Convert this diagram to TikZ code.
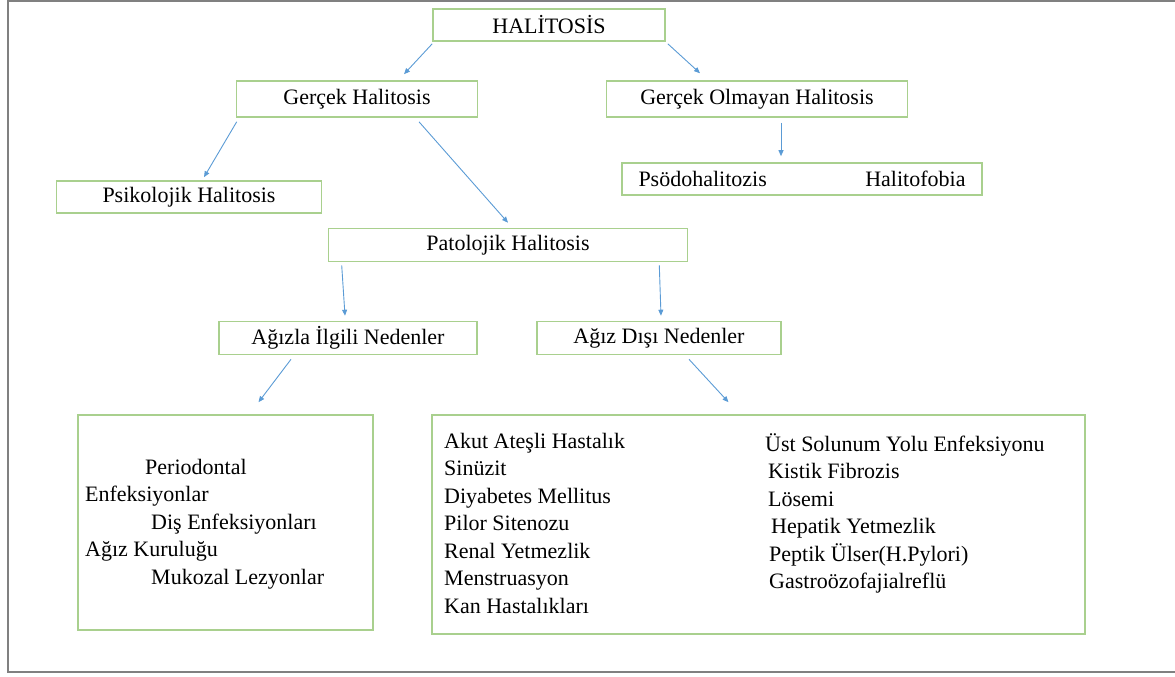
\documentclass[tikz,border=0pt]{standalone}
\usepackage{fontspec}
\setmainfont{LiberationSerif}[Extension=.ttf, UprightFont=*-Regular, BoldFont=*-Bold, ItalicFont=*-Italic]
\usetikzlibrary{positioning,arrows.meta}

\definecolor{boxgreen}{RGB}{169,208,142}
\definecolor{arrowblue}{RGB}{91,155,213}
\definecolor{framegray}{RGB}{128,128,128}

\begin{document}
\begin{tikzpicture}[x=1pt, y=-1pt,
  box/.style={rectangle, draw=boxgreen, line width=1.6pt, inner sep=0pt, align=center, font=\fontsize{22}{27.5}\selectfont},
  listtext/.style={anchor=north west, inner sep=0pt, align=left, font=\fontsize{22}{27.5}\selectfont},
  arrow/.style={-{Triangle[length=6pt, width=5pt]}, draw=arrowblue, line width=0.9pt}
]
  \useasboundingbox (0,0) rectangle (1175,677);
  \draw[framegray, line width=2pt] (1185,1) -- (8,1) -- (8,672) -- (1185,672);

  \node[box, minimum width=232, minimum height=32] (halitosis) at (549,25) {HALİTOSİS};
  \node[box, minimum width=241, minimum height=36] (gercek) at (357,99) {Gerçek Halitosis};
  \node[box, minimum width=301, minimum height=36] (olmayan) at (757,99) {Gerçek Olmayan Halitosis};
  \node[box, minimum width=265, minimum height=32] (psikolojik) at (189,197) {Psikolojik Halitosis};
  \node[box, minimum width=360, minimum height=32] (psodo) at (802,179) {\makebox[327pt]{Psödohalitozis\hfill Halitofobia}};
  \node[box, minimum width=359, minimum height=33] (patolojik) at (508,245) {Patolojik Halitosis};
  \node[box, minimum width=258, minimum height=33] (agizla) at (348,338) {Ağızla İlgili Nedenler};
  \node[box, minimum width=244, minimum height=33] (disi) at (659,338) {Ağız Dışı Nedenler};
  \node[box, minimum width=295, minimum height=215] (oral) at (225.5,522.5) {};
  \node[box, minimum width=653, minimum height=219] (extraoral) at (758.5,524.5) {};

  % list texts
  \node[listtext] (oraltext) at (85,459) {\hspace*{60pt}Periodontal\\Enfeksiyonlar\\\hspace*{66pt}Diş Enfeksiyonları\\Ağız Kuruluğu\\\hspace*{66pt}Mukozal Lezyonlar};
  \node[listtext] (extraleft) at (444,433) {Akut Ateşli Hastalık\\Sinüzit\\Diyabetes Mellitus\\Pilor Sitenozu\\Renal Yetmezlik\\Menstruasyon\\Kan Hastalıkları};
  \node[listtext] (extraright) at (765,433) {Üst Solunum Yolu Enfeksiyonu\\\hspace*{3pt}Kistik Fibrozis\\\hspace*{3pt}Lösemi\\\hspace*{6pt}Hepatik Yetmezlik\\\hspace*{4pt}Peptik Ülser(H.Pylori)\\\hspace*{4pt}Gastroözofajialreflü};

  \draw[arrow] ([yshift=-2pt]halitosis.south west) -- ([xshift=47pt, yshift=6pt]gercek.north);
  \draw[arrow] ([xshift=2pt, yshift=-2pt]halitosis.south east) -- ([xshift=-57pt, yshift=7pt]olmayan.north);
  \draw[arrow] ([xshift=1pt, yshift=-4pt]gercek.south west) -- ([xshift=15pt, yshift=3pt]psikolojik.north);
  \draw[arrow] ([xshift=62pt, yshift=-4pt]gercek.south) -- ([yshift=5pt]patolojik.north);
  \draw[arrow] ([xshift=24pt, yshift=-5pt]olmayan.south) -- ([xshift=-21pt, yshift=6pt]psodo.north);
  \draw[arrow] ([xshift=14pt, yshift=-3pt]patolojik.south west) -- ([xshift=-3pt, yshift=5pt]agizla.north);
  \draw[arrow] ([xshift=-29pt, yshift=-3pt]patolojik.south east) -- ([xshift=2pt, yshift=5pt]disi.north);
  \draw[arrow] ([xshift=-57pt, yshift=-4pt]agizla.south) -- ([xshift=33pt, yshift=12pt]oral.north);
  \draw[arrow] ([xshift=30pt, yshift=-4pt]disi.south) -- ([xshift=-30pt, yshift=12pt]extraoral.north);
\end{tikzpicture}
\end{document}
